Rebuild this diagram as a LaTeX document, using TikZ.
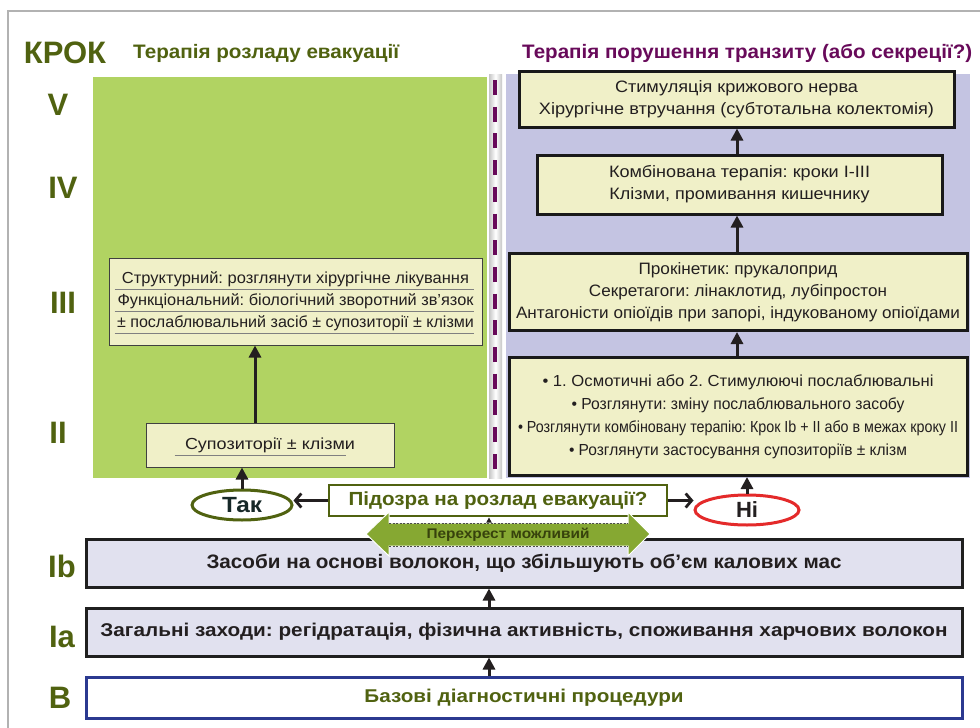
\documentclass[tikz,border=0pt]{standalone}
\usepackage{fontspec}
\setmainfont{Liberation Sans}
\usetikzlibrary{arrows.meta,calc,shapes.geometric}
\definecolor{kolive}{RGB}{80,98,16}
\definecolor{kpurp}{RGB}{104,10,90}
\definecolor{kgreen}{RGB}{177,211,98}
\definecolor{klav}{RGB}{196,196,226}
\definecolor{kyel}{RGB}{240,240,200}
\definecolor{klav2}{RGB}{225,225,239}
\definecolor{ktext}{RGB}{35,31,32}
\definecolor{kblue}{RGB}{43,57,144}
\definecolor{kred}{RGB}{228,42,42}
\definecolor{karrow}{RGB}{134,168,50}
\definecolor{kdark}{RGB}{55,66,12}
\definecolor{ktak}{RGB}{22,40,40}
\newcommand{\fw}[2]{\resizebox{#1pt}{\height}{#2}}
\frenchspacing
\begin{document}
\frenchspacing
\begin{tikzpicture}[x=1pt,y=-1pt,
  lbl/.style={font=\fontsize{31}{31}\selectfont\bfseries, text=kolive, anchor=base, inner sep=0pt},
  hd/.style={font=\fontsize{19.5}{20}\selectfont\bfseries, anchor=base west, inner sep=0pt},
  ybox/.style={draw=black!90, line width=3pt, fill=kyel, text=ktext, align=center, inner sep=0pt, font=\fontsize{16.5}{22}\selectfont},
  lbox/.style={draw=black!75, line width=1pt, fill=kyel, text=ktext, align=center, inner sep=0pt, font=\fontsize{16}{22}\selectfont},
  gbox/.style={draw=black!88, line width=3pt, fill=klav2, text=ktext, inner sep=0pt, font=\fontsize{19.5}{20}\selectfont\bfseries},
  arr/.style={line width=3pt, draw=ktext, -{Triangle[length=12pt,width=12pt]}},
  barb/.style={line width=2.8pt, draw=ktext, -{Straight Barb[length=6pt,width=14pt]}},
  ul/.style={draw=black!50, line width=0.7pt}
]
\useasboundingbox (0,0) rectangle (980,728);
\fill[white] (0,0) rectangle (980,728);
\draw[gray!60, line width=1.5pt] (8,728) -- (8,11) -- (980,11);

% panels
\fill[kgreen] (93,77) rectangle (487,478);
\fill[klav] (506,74) rectangle (970,478);
\shade[left color=gray!45, right color=gray!45, middle color=white] (489,74) rectangle (502,478);
\draw[kpurp, line width=4pt, dash pattern=on 15pt off 11.7pt] (495,80) -- (495,478);

% step labels
\node[lbl] (krok) at (65,63) {КРОК};
\node[lbl] (s5) at (58,115) {V};
\node[lbl] (s4) at (63,198) {IV};
\node[lbl] (s3) at (63,313) {III};
\node[lbl] (s2) at (58,443) {II};
\node[lbl] (s1b) at (62,577) {Ib};
\node[lbl] (s1a) at (62,647) {Ia};
\node[lbl] (sb) at (60,708) {B};

% headings
\node[hd, text=kolive] (h1) at (133,58) {\fw{266}{Терапія розладу евакуації}};
\node[hd, text=kpurp] (h2) at (522,58) {\fw{450}{Терапія порушення транзиту (або секреції?)}};

% right column
\node[ybox, minimum width=435, minimum height=56] (v) at (736.5,99)
  {\fw{243}{Стимуляція крижового нерва}\\ \fw{395}{Хірургічне втручання (субтотальна колектомія)}};
\node[ybox, minimum width=405, minimum height=59] (iv) at (739.5,184.5)
  {\fw{261}{Комбінована терапія: кроки I-III}\\ \fw{260}{Клізми, промивання кишечнику}};
\node[ybox, minimum width=458, minimum height=77] (iiir) at (738,292)
  {\fw{199}{Прокінетик: прукалоприд}\\ \fw{298}{Секретагоги: лінаклотид, лубіпростон}\\ \fw{444}{Антагоністи опіоїдів при запорі, індукованому опіоїдами}};
\node[ybox, minimum width=458, minimum height=118, font=\fontsize{16}{23}\selectfont] (iir) at (738,416.5)
  {\fw{391}{• 1. Осмотичні або 2. Стимулюючі послаблювальні}\\ \fw{333}{• Розглянути: зміну послаблювального засобу}\\ \fw{440}{• Розглянути комбіновану терапію: Крок Ib + II або в межах кроку II}\\ \fw{338}{• Розглянути застосування супозиторіїв ± клізм}};

% left column
\node[lbox, minimum width=373, minimum height=87] (iiil) at (295.5,301.5)
  {\fw{347}{Структурний: розглянути хірургічне лікування}\\ \fw{356}{Функціональний: біологічний зворотний зв’язок}\\ \fw{357}{± послаблювальний засіб ± супозиторії ± клізми}};
\draw[ul] ($(iiil.south west)+(6,-56)$) -- ($(iiil.south east)+(-9,-56)$);
\draw[ul] ($(iiil.south west)+(6,-34)$) -- ($(iiil.south east)+(-9,-34)$);
\draw[ul] ($(iiil.south west)+(6,-12)$) -- ($(iiil.south east)+(-9,-12)$);
\node[lbox, minimum width=248, minimum height=44] (iil) at (270,445)
  {\fw{170}{Супозиторії ± клізми}};
\draw[ul] ($(iil.south west)+(29,-12)$) -- ($(iil.south east)+(-49,-12)$);

% bottom boxes
\node[gbox, minimum width=876, minimum height=48] (ib) at (524,563)
  {\fw{635}{Засоби на основі волокон, що збільшують об’єм калових мас}};
\node[gbox, minimum width=876, minimum height=48, font=\fontsize{18.5}{20}\selectfont\bfseries] (ia) at (524,632)
  {\fw{847}{Загальні заходи: регідратація, фізична активність, споживання харчових волокон}};
\node[draw=kblue, line width=3pt, fill=white, minimum width=876, minimum height=41, inner sep=0pt, text=kolive, font=\fontsize{18.5}{20}\selectfont\bfseries] (b) at (524,697.5)
  {\fw{319}{Базові діагностичні процедури}};

% decision
\node[draw=kolive, line width=2.5pt, fill=white, minimum width=338, minimum height=31, inner sep=0pt, text=kolive, font=\fontsize{19}{20}\selectfont\bfseries] (pid) at (498,500.5)
  {\fw{299}{Підозра на розлад евакуації?}};
\node[ellipse, draw=kolive, line width=3pt, fill=white, minimum width=100, minimum height=30, inner sep=0pt, text=ktak, font=\fontsize{22}{22}\selectfont\bfseries] (tak) at (242,505) {\fw{40}{Так}};
\node[ellipse, draw=kred, line width=3pt, fill=white, minimum width=104, minimum height=30, inner sep=0pt, text=ktext, font=\fontsize{22}{22}\selectfont\bfseries] (ni) at (747,510) {Ні};

% arrows
\coordinate (la) at (255,0);
\coordinate (ra) at (737,0);
\coordinate (ma) at (489,0);
\draw[arr] (iil.north -| la) -- (iiil.south -| la);
\draw[arr] (iir.north -| ra) -- (iiir.south -| ra);
\draw[arr] (iiir.north -| ra) -- (iv.south -| ra);
\draw[arr] (iv.north -| ra) -- (v.south -| ra);
\draw[arr] (b.north -| ma) -- (ia.south -| ma);
\draw[arr] (ia.north -| ma) -- (ib.south -| ma);
\draw[arr] (ib.north -| ma) -- (pid.south -| ma);
\draw[arr] (tak.north) -- (tak.north |- iil.south);
\draw[arr] (ni.north) -- (ni.north |- iir.south);
\draw[barb] (pid.west) -- (pid.west -| tak.east);
\draw[barb] (pid.east) -- (pid.east -| ni.west);

% crossover double arrow
\filldraw[fill=karrow, draw=white, line width=1pt]
  (366,534) -- (389,512) -- (389,523) -- (628,523) -- (628,512) -- (650,534)
  -- (628,556) -- (628,546) -- (389,546) -- (389,556) -- cycle;
\draw[black!70, line width=0.6pt, dash pattern=on 2pt off 1.5pt] (389,523) -- (628,523) (389,546) -- (628,546);
\node[inner sep=0pt, text=kdark, font=\fontsize{14}{14}\selectfont\bfseries] (cross) at (508,535) {\fw{163}{Перехрест можливий}};
\end{tikzpicture}
\end{document}
